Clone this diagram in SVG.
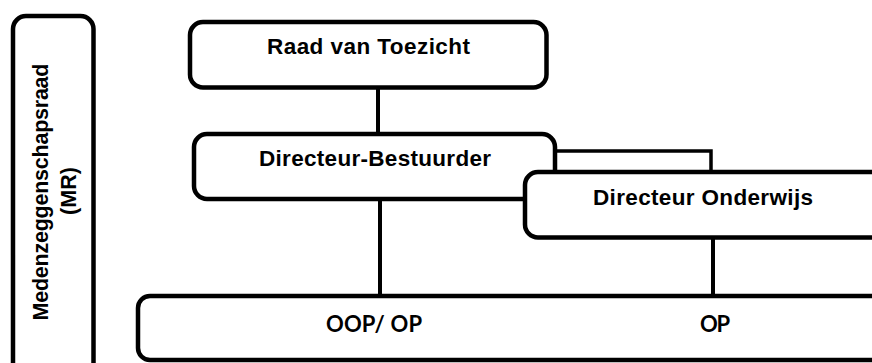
<svg xmlns="http://www.w3.org/2000/svg" width="872" height="363" viewBox="0 0 872 363">
  <style>
    .box { fill: #ffffff; stroke: #000000; stroke-width: 4.5; }
    .conn { fill: none; stroke: #000000; stroke-width: 4; }
    .thin { stroke-width: 3.5; }
    .lbl { font-family: "Liberation Sans", Arial, sans-serif; font-weight: bold; font-size: 22.5px; fill: #000000; text-anchor: middle; }
    .mr { font-size: 21.5px; }
    .lbl2 { font-family: Lato, "Open Sans", sans-serif; font-weight: bold; font-size: 22px; fill: #000000; text-anchor: middle; }
  </style>
  <rect width="872" height="363" fill="#ffffff"/>
  <g id="connectors">
    <line class="conn" x1="378" y1="87" x2="378" y2="134"/>
    <line class="conn" x1="380" y1="199" x2="380" y2="296"/>
    <path class="conn thin" d="M555 151 H711 V172"/>
    <line class="conn" x1="713" y1="237" x2="713" y2="296"/>
  </g>
  <g id="node-mr">
    <rect class="box" x="13" y="16" width="80.5" height="400" rx="13"/>
    <text class="lbl mr" x="48" y="192" transform="rotate(-90 48 192)" textLength="257">Medenzeggenschapsraad</text>
    <text class="lbl mr" x="76" y="191" transform="rotate(-90 76 191)">(MR)</text>
  </g>
  <g id="node-bottom">
    <rect class="box" x="138" y="296" width="800" height="64" rx="12"/>
    <text class="lbl2" x="374" y="332" textLength="96">OOP/ OP</text>
    <text class="lbl2" x="715" y="332" textLength="30">OP</text>
  </g>
  <g id="node-raad">
    <rect class="box" x="190" y="22" width="356.5" height="65.5" rx="13"/>
    <text class="lbl" x="368.5" y="54" textLength="203">Raad van Toezicht</text>
  </g>
  <g id="node-db">
    <rect class="box" x="194" y="134" width="361" height="65" rx="13"/>
    <text class="lbl" x="375" y="166" textLength="232">Directeur-Bestuurder</text>
  </g>
  <g id="node-do">
    <rect class="box" x="525" y="172" width="400" height="65.5" rx="13"/>
    <text class="lbl" x="703" y="205" textLength="220">Directeur Onderwijs</text>
  </g>
</svg>
